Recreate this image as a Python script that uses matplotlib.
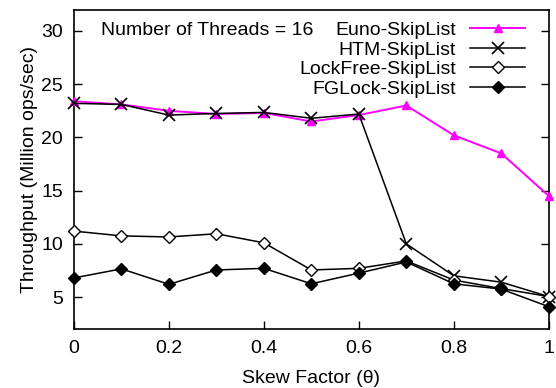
import numpy as np
import matplotlib
matplotlib.use('Agg')
import matplotlib.pyplot as plt

plt.rcParams['font.family'] = ['Liberation Sans', 'DejaVu Sans']

# Data
skew = [0, 0.1, 0.2, 0.3, 0.4, 0.5, 0.6, 0.7, 0.8, 0.9, 1.0]
euno = [23.4, 23.1, 22.5, 22.2, 22.3, 21.5, 22.1, 23.0, 20.2, 18.5, 14.5]
htm = [23.2, 23.1, 22.1, 22.25, 22.35, 21.8, 22.2, 10.0, 7.0, 6.4, 5.05]
lockfree = [11.2, 10.75, 10.65, 10.95, 10.1, 7.55, 7.7, 8.4, 6.6, 5.8, 5.05]
fglock = [6.8, 7.65, 6.2, 7.55, 7.7, 6.25, 7.25, 8.3, 6.25, 5.75, 4.1]

fig = plt.figure(figsize=(5.56, 3.88), dpi=100)
ax = fig.add_axes([0.133, 0.152, 0.854, 0.823])

ax.plot(skew, euno, color='#ff00ff', lw=1.4, marker='^', ms=6,
        label='Euno-SkipList', clip_on=False, zorder=3)
ax.plot(skew, htm, color='black', lw=1.1, marker='x', ms=8, mew=1.2,
        label='HTM-SkipList', clip_on=False, zorder=4)
ax.plot(skew, lockfree, color='black', lw=1.1, marker='D', ms=6,
        mfc='white', mew=1.0, label='LockFree-SkipList', clip_on=False, zorder=4)
ax.plot(skew, fglock, color='black', lw=1.1, marker='D', ms=6,
        label='FGLock-SkipList', clip_on=False, zorder=4)

ax.set_xlim(0, 1)
ax.set_ylim(2, 32)
ax.set_xticks([0, 0.2, 0.4, 0.6, 0.8, 1.0])
ax.set_xticklabels(['0', '0.2', '0.4', '0.6', '0.8', '1'])
ax.set_yticks([5, 10, 15, 20, 25, 30])
ax.tick_params(direction='in', length=6, width=1, labelsize=14, pad=8,
               right=True, top=False)
for s in ax.spines.values():
    s.set_linewidth(1.2)

ax.set_xlabel('Skew Factor (θ)', fontsize=14, labelpad=9)
ax.set_ylabel('Throughput (Million ops/sec)', fontsize=14, labelpad=2)

ax.text(0.057, 30, 'Number of Threads = 16', fontsize=14, va='center',
        transform=ax.get_yaxis_transform())

ax.legend(loc='upper right', bbox_to_anchor=(1.0, 1.036), frameon=False,
          markerfirst=False, fontsize=14, handlelength=2.85, labelspacing=0.1,
          borderaxespad=0.8, handletextpad=0.72)

fig.savefig('out.png', dpi=100)
